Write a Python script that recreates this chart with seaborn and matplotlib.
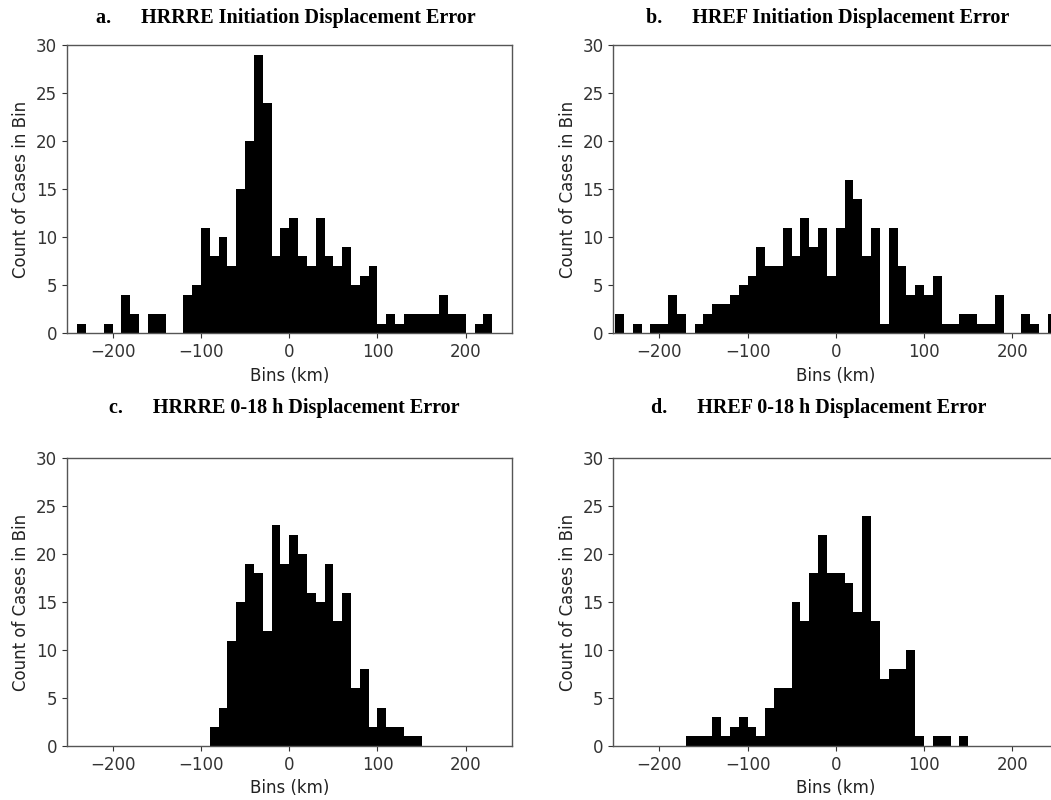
import numpy as np
import pandas as pd
import matplotlib
matplotlib.use("Agg")
import matplotlib.pyplot as plt
import seaborn as sns

# Bin left edges (km), 10-km bins
bin_left = [-250, -240, -230, -220, -210, -200, -190, -180, -170, -160,
            -150, -140, -130, -120, -110, -100, -90, -80, -70, -60,
            -50, -40, -30, -20, -10, 0, 10, 20, 30, 40,
            50, 60, 70, 80, 90, 100, 110, 120, 130, 140,
            150, 160, 170, 180, 190, 200, 210, 220, 230, 240]

counts_a = [0, 1, 0, 0, 1, 0, 4, 2, 0, 2,
            2, 0, 0, 4, 5, 11, 8, 10, 7, 15,
            20, 29, 24, 8, 11, 12, 8, 7, 12, 8,
            7, 9, 5, 6, 7, 1, 2, 1, 2, 2,
            2, 2, 4, 2, 2, 0, 1, 2, 0, 0]

counts_b = [2, 0, 1, 0, 1, 1, 4, 2, 0, 1,
            2, 3, 3, 4, 5, 6, 9, 7, 7, 11,
            8, 12, 9, 11, 6, 11, 16, 14, 8, 11,
            1, 11, 7, 4, 5, 4, 6, 1, 1, 2,
            2, 1, 1, 4, 0, 0, 2, 1, 0, 2]

counts_c = [0, 0, 0, 0, 0, 0, 0, 0, 0, 0,
            0, 0, 0, 0, 0, 0, 2, 4, 11, 15,
            19, 18, 12, 23, 19, 22, 20, 16, 15, 19,
            13, 16, 6, 8, 2, 4, 2, 2, 1, 1,
            0, 0, 0, 0, 0, 0, 0, 0, 0, 0]

counts_d = [0, 0, 0, 0, 0, 0, 0, 0, 1, 1,
            1, 3, 1, 2, 3, 2, 1, 4, 6, 6,
            15, 13, 18, 22, 18, 18, 17, 14, 24, 13,
            7, 8, 8, 10, 1, 0, 1, 1, 0, 1,
            0, 0, 0, 0, 0, 0, 0, 0, 0, 0]

titles = ["a.      HRRRE Initiation Displacement Error",
          "b.      HREF Initiation Displacement Error",
          "c.      HRRRE 0-18 h Displacement Error",
          "d.      HREF 0-18 h Displacement Error"]

x_label = "Bins (km)"
y_label = "Count of Cases in Bin"
y_ticks = [0, 5, 10, 15, 20, 25, 30]

sns.set_style("ticks")
plt.rcParams['font.family'] = ['DejaVu Sans']

W, H = 1051, 800
fig = plt.figure(figsize=(W / 100, H / 100), dpi=100)

# axes boxes in pixels: left, top, right, bottom
boxes = [(66.7, 45, 511.7, 333.3),
         (613.3, 45, 1058.3, 333.3),
         (66.7, 458.3, 511.7, 746),
         (613.3, 458.3, 1058.3, 746)]
title_pos = [(286, 18), (828, 18), (284, 408), (819, 408)]

edges = bin_left + [bin_left[-1] + 10]
centers = [b + 5 for b in bin_left]

for i, counts in enumerate([counts_a, counts_b, counts_c, counts_d]):
    l, t, r, b = boxes[i]
    ax = fig.add_axes([l / W, 1 - b / H, (r - l) / W, (b - t) / H])
    df = pd.DataFrame({"x": centers, "w": counts})
    sns.histplot(data=df, x="x", weights="w", bins=edges, ax=ax,
                 color="black", alpha=1, edgecolor="none", linewidth=0)
    ax.set_xlim(-252, 252)
    ax.set_ylim(0, 30)
    ax.set_yticks(y_ticks)
    ax.set_xticks([-200, -100, 0, 100, 200])
    ax.tick_params(labelsize=12, colors="#333333")
    for s in ax.spines.values():
        s.set_color("#555555")
        s.set_linewidth(1.0)
    ax.set_xlabel(x_label, fontsize=12, color="#222222")
    ax.set_ylabel(y_label, fontsize=12, color="#222222")
    tx, ty = title_pos[i]
    fig.text(tx / W, 1 - ty / H, titles[i], ha="center", va="center",
             fontsize=14.5, fontweight="bold", family="Liberation Serif",
             color="black")

fig.savefig("out.png", dpi=100)
